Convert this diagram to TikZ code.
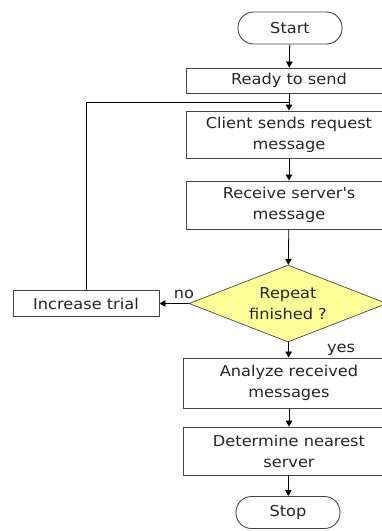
\documentclass[tikz,border=0pt]{standalone}
\usepackage{fontspec}
\setmainfont{DejaVu Sans}[FakeStretch=1.08]
\usetikzlibrary{arrows.meta,shapes.geometric,calc}
\definecolor{edgegray}{RGB}{70,70,70}
\definecolor{decisionfill}{RGB}{255,255,153}
\begin{document}
\begin{tikzpicture}[x=1pt,y=-1pt,
  every node/.style={font=\fontsize{15}{21}\selectfont, text=black!85, align=center, inner sep=0pt},
  terminal/.style={draw=edgegray, line width=0.9pt, rounded corners=15.5pt, minimum width=104pt, minimum height=32pt},
  stepbox/.style={draw=edgegray, line width=0.9pt, minimum width=205pt},
  decision/.style={diamond, draw=edgegray, line width=0.7pt, fill=decisionfill, aspect=2.55, minimum width=198pt, minimum height=77pt},
  flow/.style={line width=0.8pt, draw=black, -{Triangle[length=6pt,width=6.5pt]}},
  plain/.style={line width=0.8pt, draw=black}]
\useasboundingbox (0,0) rectangle (382,531);
\clip (0,0) rectangle (382,531);

% main column
\node[terminal] (start) at (290,28) {Start};
\node[stepbox, minimum height=25pt] (ready) at (289,80.5) {Ready to send};
\node[stepbox, minimum height=47pt] (client) at (289,134.5) {Client sends request\\message};
\node[stepbox, minimum height=48pt] (recv) at (289,205) {Receive server\textquotesingle s\\message};
\node[decision] (rep) at (288,303.5) {Repeat\\finished ?};
\node[stepbox, minimum width=212pt, minimum height=50pt] (anal) at (289,383) {Analyze received\\messages};
\node[stepbox, minimum width=212pt, minimum height=48pt] (det) at (289,451) {Determine nearest\\server};
\node[terminal] (stop) at (288,512.5) {Stop};

% loop-back branch
\node[draw=edgegray, line width=0.9pt, minimum width=146pt, minimum height=26pt] (inc) at (86,303.5) {Increase trial};
\coordinate (join) at ($(ready.south)!0.5!(client.north)$);

% connectors
\draw[flow] (start) -- (ready);
\draw[flow] (ready) -- (client);
\draw[flow] (client) -- (recv);
\draw[flow] (recv) -- (rep);
\draw[flow] (rep) -- (anal);
\draw[flow] (anal) -- (det);
\draw[flow] (det) -- (stop);
\draw[flow] (rep.west) -- (inc.east);
\draw[plain] (inc.north) |- (join);

% branch labels
\node[anchor=south] (nolbl) at (184,299) {no};
\node[anchor=south] (yeslbl) at (341,356) {yes};
\end{tikzpicture}
\end{document}
